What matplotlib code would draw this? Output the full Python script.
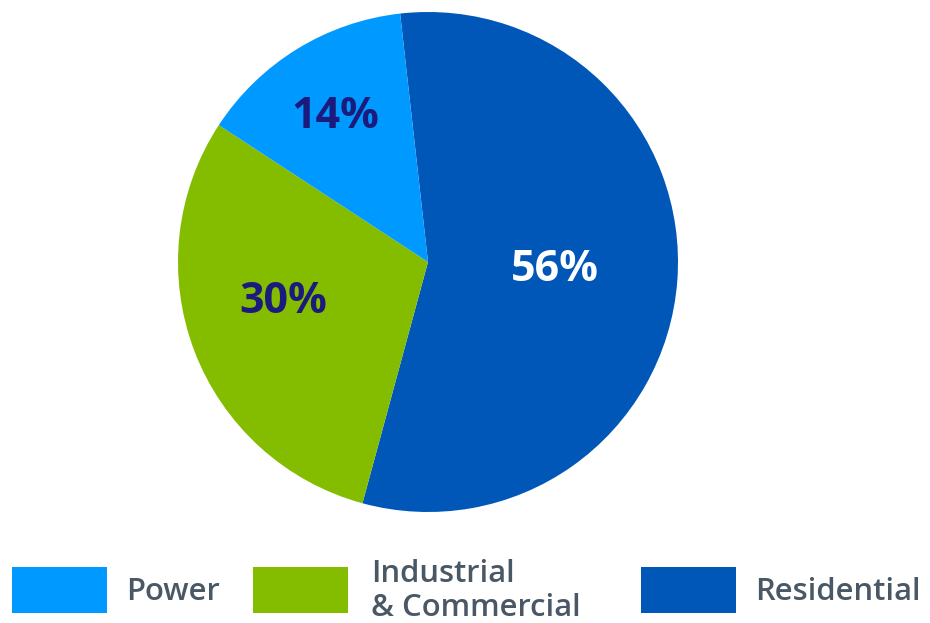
import numpy as np
import matplotlib
matplotlib.use('Agg')
import matplotlib.pyplot as plt
from matplotlib.patches import Rectangle

# ===== 数据 =====
sectors = ["Residential", "Industrial\n& Commercial", "Power"]
shares = [56, 30, 14]
colors = ["#0057B8", "#84BD00", "#0099FF"]
label_colors = ["white", "#1B1B7E", "#1B1B7E"]
label_dist = [0.51, 0.6, 0.69]
label_shift = [1.0, -5.5, 1.0]   # 角度微调

legend_order = [2, 1, 0]   # Power, Industrial, Residential

plt.rcParams['font.family'] = ['Open Sans', 'DejaVu Sans']

fig = plt.figure(figsize=(9.3, 6.23), dpi=100)
ax = fig.add_axes([178 / 930, 111 / 623, 500 / 930, 500 / 623])

wedges, _ = ax.pie(shares, colors=colors, startangle=96.4, counterclock=False,
                   radius=1.0, wedgeprops=dict(linewidth=0))
ax.set_xlim(-1, 1)
ax.set_ylim(-1, 1)
ax.set_aspect('equal')
ax.axis('off')

# 百分比标签
for w, v, c, d, s in zip(wedges, shares, label_colors, label_dist, label_shift):
    mid = np.deg2rad((w.theta1 + w.theta2) / 2 + s)
    ax.text(d * np.cos(mid), d * np.sin(mid), f"{v}%", color=c,
            fontsize=31, fontweight='bold', ha='center', va='center')

# ===== 图例 =====
box_x = [12, 253, 641]
text_dx = [114, 118, 114]
for i, bx, dx in zip(legend_order, box_x, text_dx):
    fig.add_artist(Rectangle((bx / 930, 10 / 623), 95 / 930, 46 / 623,
                             transform=fig.transFigure, color=colors[i], lw=0))
    fig.text((bx + dx) / 930, 31 / 623 if i != 1 else 32 / 623, sectors[i],
             fontsize=22.3, fontweight='semibold', color='#4A5866',
             ha='left', va='center', linespacing=1.2)

plt.savefig("out.png", dpi=100)
plt.close()
